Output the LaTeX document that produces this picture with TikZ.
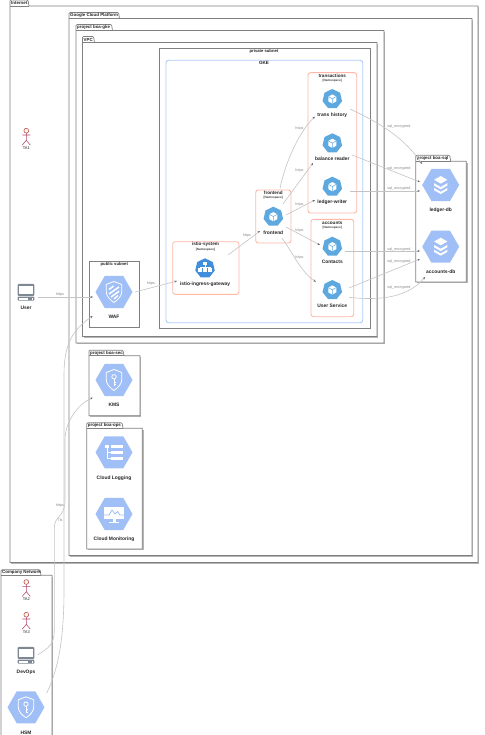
\documentclass[tikz,border=0pt]{standalone}
\usepackage{fontspec}
\setmainfont{Liberation Sans}
\usetikzlibrary{arrows.meta,calc,shapes.geometric}
\definecolor{hexblue}{HTML}{A0BFF6}
\definecolor{podblue}{HTML}{5EA8E0}
\definecolor{istblue}{HTML}{3F8FDD}
\definecolor{nsline}{HTML}{FFB8A8}
\definecolor{gkeline}{HTML}{AFCBFA}
\definecolor{actline}{HTML}{B0466A}
\definecolor{actfill}{HTML}{FEFBC8}
\definecolor{lapgrey}{HTML}{7D8894}
\definecolor{frameline}{HTML}{808080}
\definecolor{frameshadow}{HTML}{B4B4B4}
\definecolor{edgeline}{HTML}{C4C4C4}
\definecolor{edgetext}{HTML}{8A8A8A}
\tikzset{
 hex/.style={shape=regular polygon,regular polygon sides=6,minimum size=37pt,inner sep=0pt,fill=hexblue,draw=none},
 pod/.style={shape=regular polygon,regular polygon sides=7,minimum size=20pt,inner sep=0pt,fill=podblue,draw=none},
 ist/.style={pod,fill=istblue},
 captxt/.style={font=\bfseries\fontsize{4.9}{6}\selectfont,text=black!85,inner sep=0pt},
 tabtxt/.style={font=\bfseries\fontsize{4.4}{5}\selectfont,text=black!85,inner sep=0pt,anchor=west},
 nstitle/.style={font=\bfseries\fontsize{4.6}{5}\selectfont,text=black!85,inner sep=0pt},
 nssub/.style={font=\bfseries\fontsize{3.1}{4}\selectfont,text=black!75,inner sep=0pt},
 acttxt/.style={font=\fontsize{4}{5}\selectfont,text=black!85,inner sep=0pt},
 conn/.style={draw=edgeline,line width=.6pt,-{Stealth[length=2.6pt,width=2pt,color=black!60]}},
 etxt/.style={font=\fontsize{3.7}{4}\selectfont,text=edgetext,inner sep=0pt},
 nsbox/.style={draw=nsline,line width=.9pt,rounded corners=2.5pt,fill=white},
 gkebox/.style={draw=gkeline,line width=.9pt,rounded corners=2.5pt,fill=white},
 plainbox/.style={draw=frameline,line width=.7pt,fill=white},
 wl/.style={draw=white,line width=.8pt,line join=round},
 shieldicon/.pic={
  \draw[wl] (0,-10.5) -- (7.8,-7.5) -- (7.8,-.5) .. controls (7.8,4.5) and (3.5,8) .. (0,10.5) .. controls (-3.5,8) and (-7.8,4.5) .. (-7.8,-.5) -- (-7.8,-7.5) -- cycle;
 },
 wafmark/.pic={
  \draw[white,line width=1.5pt] (-5,-2.5) -- (-.5,-6);
  \draw[white,line width=1.5pt] (-5,2) -- (5,-5);
  \draw[white,line width=1.5pt] (-3,5) -- (5.2,-.8);
  \draw[white,line width=1.5pt] (0,7) -- (4,3.5);
 },
 keymark/.pic={
  \draw[white,line width=.8pt] (0,-3.2) circle (2.2);
  \draw[white,line width=.9pt] (0,-1) -- (0,6) (0,2.5) -- (2,2.5) (0,4.8) -- (2,4.8);
 },
 logmark/.pic={
  \fill[white] (-9,-7.5) rectangle (-5,-4.5);
  \draw[white,line width=.8pt] (-7,-5) -- (-7,6) (-7,.5) -- (-3,.5) (-7,6) -- (-3,6);
  \fill[white] (-3,-7.5) rectangle (9,-4.5);
  \fill[white] (-3,-1) rectangle (9,2);
  \fill[white] (-3,4.5) rectangle (9,7.5);
 },
 monmark/.pic={
  \fill[white] (-10,-7) rectangle (10,5);
  \draw[hexblue,line width=.8pt,line join=round] (-10,1) -- (-5,1) -- (-2,-4) -- (1,0) -- (3.5,-2.5) -- (6,1) -- (10,1);
  \fill[white] (-1.5,5) rectangle (1.5,8);
  \fill[white] (-5,7.5) rectangle (5,8.8);
 },
 dbmark/.pic={
  \fill[white] (0,-9) -- (6.6,-5.2) -- (0,-1.4) -- (-6.6,-5.2) -- cycle;
  \fill[white] (-6.6,-1.8) -- (0,2) -- (6.6,-1.8) -- (6.6,.6) -- (0,4.4) -- (-6.6,.6) -- cycle;
  \fill[white] (-6.6,3) -- (0,6.8) -- (6.6,3) -- (6.6,5.2) -- (0,9) -- (-6.6,5.2) -- cycle;
 },
 cubemark/.pic={
  \fill[white] (0,-4.6) -- (4,-2.4) -- (4,2.4) -- (0,4.6) -- (-4,2.4) -- (-4,-2.4) -- cycle;
  \draw[podblue,line width=.5pt] (-4,-2.4) -- (0,-.2) -- (4,-2.4) (0,-.2) -- (0,4.6);
 },
 netmark/.pic={
  \fill[white] (-2,-6) rectangle (2,-3.4);
  \draw[white,line width=.4pt] (0,-3.4) -- (0,-1.5) (-5,-1.5) -- (5,-1.5) (-5,-1.5) -- (-5,-.8) (5,-1.5) -- (5,-.8);
  \foreach \cx in {-5,0,5}{\fill[white] (\cx-2,-.8) rectangle (\cx+2,1.2);\fill[white] (\cx-2,1.9) rectangle (\cx+2,3.9);}
 },
 laptopmark/.pic={
  \fill[lapgrey,rounded corners=1pt] (-8.4,-8.4) rectangle (8.4,3.6);
  \fill[white] (-6.7,-6.4) rectangle (6.7,1.6);
  \fill[lapgrey,rounded corners=1pt] (-8.4,4.3) rectangle (8.4,8.4);
  \fill[white] (-7.4,5.3) rectangle (1.8,7.4);
  \fill[white] (5.5,5.3) rectangle (7.4,7.4);
 },
 actormark/.pic={
  \draw[actline,line width=.55pt] (0,2.4) -- (0,9.6) (-4,4.3) -- (4,4.3) (-4,14.4) -- (0,9.6) -- (4,14.4);
  \draw[actline,line width=.55pt,fill=actfill] (0,0) circle (2.4);
 },
}
% name, x1, y1, x2, y2, tab right, tab height, text
\newcommand{\pkgframe}[8]{%
 \fill[frameshadow] (#2+1.3,#3+1.3) rectangle (#4+1.3,#5+1.3);
 \draw[plainbox] (#2,#3) -- (#2,#3-#7+1) .. controls (#2,#3-#7) .. (#2+1,#3-#7) -- (#6-2,#3-#7) .. controls (#6-1,#3-#7) .. (#6-.8,#3-#7+1) -- (#6,#3) -- (#4,#3) -- (#4,#5) -- (#2,#5) -- cycle;
 \draw[frameline,line width=.7pt] (#2,#3) -- (#6,#3);
 \node[tabtxt] (#1) at (#2+1,#3-#7/2) {#8};
}
\begin{document}
\begin{tikzpicture}[x=1pt,y=-1pt]
\useasboundingbox (0,0) rectangle (484,735);
\clip (0,0) rectangle (484,735);
\fill[white] (0,0) rectangle (484,735);

\pkgframe{tinternet}{10}{6}{478}{562.5}{29}{6}{Internet}
\pkgframe{tgcp}{69}{18.5}{472}{555.5}{119.5}{6}{Google Cloud Platform}
\pkgframe{tgke}{76}{30.5}{384}{343}{112.5}{6}{project boa-gke}
\pkgframe{tvpc}{82.5}{42.5}{377}{336.5}{94.5}{6}{VPC}

% private subnet
\draw[plainbox] (159,48.3) rectangle (370,328.8);
\node[nstitle,font=\bfseries\fontsize{4.2}{5}\selectfont] (tprivate) at (264,51.3) {private subnet};
\draw[gkebox] (166,60.3) rectangle (362.7,322.7);
\node[nstitle] (tgkein) at (264,63.3) {GKE};

% public subnet
\draw[plainbox] (89,261.7) rectangle (139.7,327.3);
\node[nstitle,font=\bfseries\fontsize{4.2}{5}\selectfont] (tpublic) at (114.3,264.6) {public subnet};

% namespaces
\draw[nsbox] (308,72.7) rectangle (356.7,213);
\node[nstitle] (nstr) at (332.3,76) {transactions};
\node[nssub] (nstrs) at (332.3,80.5) {[Namespace]};
\draw[nsbox] (311,219.3) rectangle (353.7,316.7);
\node[nstitle] (nsac) at (332.3,223) {accounts};
\node[nssub] (nsacs) at (332.3,227.5) {[Namespace]};
\draw[nsbox] (255.7,190) rectangle (291,243);
\node[nstitle] (nsfe) at (273.3,193) {frontend};
\node[nssub] (nsfes) at (273.3,197.5) {[Namespace]};
\draw[nsbox] (172.7,241.7) rectangle (239,294.3);
\node[nstitle] (nsis) at (205.5,244.7) {istio-system};
\node[nssub] (nsiss) at (205.5,249.3) {[Namespace]};

% other projects
\pkgframe{tsec}{89}{355.7}{140}{415.7}{124}{5.5}{project boa-sec}
\pkgframe{tops}{86.7}{428.3}{142.3}{549}{123}{5.5}{project boa-ops}
\pkgframe{tsql}{415.7}{161.3}{466.3}{282}{450.7}{6}{project boa-sql}
\pkgframe{tcomp}{1}{575.3}{52}{745}{41}{5.5}{Company Network}

% GCP icons
\node[hex] (waf) at (114,292) {}; \pic at (waf) {shieldicon}; \pic at (waf) {wafmark};
\node[captxt] (waftxt) at (114,317) {WAF};
\node[hex] (kms) at (114,380) {}; \pic at (kms) {shieldicon}; \pic at (kms) {keymark};
\node[captxt] (kmstxt) at (114,405.3) {KMS};
\node[hex] (clog) at (114,452.3) {}; \pic at (clog) {logmark};
\node[captxt] (clogtxt) at (114,478) {Cloud Logging};
\node[hex] (cmon) at (114,514) {}; \pic at (cmon) {monmark};
\node[captxt] (cmontxt) at (114,539) {Cloud Monitoring};
\node[hex] (ldb) at (440.7,185) {}; \pic at (ldb) {dbmark};
\node[captxt] (ldbtxt) at (440.7,210.7) {ledger-db};
\node[hex] (adb) at (440.7,246.7) {}; \pic at (adb) {dbmark};
\node[captxt] (adbtxt) at (440.7,272) {accounts-db};
\node[hex] (hsm) at (26,707.3) {}; \pic at (hsm) {shieldicon}; \pic at (hsm) {keymark};
\node[captxt] (hsmtxt) at (26,732.7) {HSM};

% pods
\node[pod] (th) at (332.3,99) {}; \pic at (th) {cubemark};
\node[captxt] (thtxt) at (332.3,115.7) {trans history};
\node[pod] (br) at (332.3,143.3) {}; \pic at (br) {cubemark};
\node[captxt] (brtxt) at (332.3,159) {balance reader};
\node[pod] (lw) at (332.3,186.7) {}; \pic at (lw) {cubemark};
\node[captxt] (lwtxt) at (332.3,202.7) {ledger-writer};
\node[pod] (fe) at (273.3,216.7) {}; \pic at (fe) {cubemark};
\node[captxt] (fetxt) at (273.3,232.7) {frontend};
\node[pod] (ct) at (332.3,246.7) {}; \pic at (ct) {cubemark};
\node[captxt] (cttxt) at (332.3,262.3) {Contacts};
\node[pod] (us) at (332.3,290) {}; \pic at (us) {cubemark};
\node[captxt] (ustxt) at (332.3,306) {User Service};
\node[ist] (ig) at (205,268.3) {}; \pic at (ig) {netmark};
\node[captxt] (igtxt) at (205,284.3) {istio-ingress-gateway};

% people and machines
\node[inner sep=0pt,minimum size=17pt] (user) at (26,292.3) {}; \pic at (user) {laptopmark};
\node[captxt] (usertxt) at (26,308.3) {User};
\node[inner sep=0pt,minimum size=17pt] (devops) at (26,655.3) {}; \pic at (devops) {laptopmark};
\node[captxt] (devopstxt) at (26,672) {DevOps};
\pic at (26.3,130.7) {actormark};
\node[acttxt] (ta1) at (26.3,148.3) {TA1};
\pic at (26.3,582) {actormark};
\node[acttxt] (ta2) at (26.3,599.3) {TA2};
\pic at (26.3,614.7) {actormark};
\node[acttxt] (ta3) at (26.3,631.7) {TA3};

% connectors
\draw[conn] ($(user)+(12,4.7)$) -- ($(waf)+(-21,5)$);
\node[etxt] (e1) at (60,295) {https};
\draw[conn] ($(waf)+(21,0)$) -- ($(ig)+(-28,12.7)$);
\node[etxt] (e2) at (151,284) {https};
\draw[conn] ($(ig)+(23,-13.3)$) -- ($(fe)+(-13.3,14.3)$);
\node[etxt] (e3) at (247,236) {https};
\draw[conn] ($(fe)+(6.7,-28.4)$) .. controls ($(fe)+(12,-55)$) and ($(th)+(-32,31)$) .. ($(th)+(-17.3,17.7)$);
\node[etxt] (e4) at (299.5,129) {https};
\draw[conn] ($(fe)+(9.7,-12.7)$) -- ($(br)+(-19.3,19.7)$);
\node[etxt] (e5) at (299.5,171) {https};
\draw[conn] ($(fe)+(12.7,-1.7)$) -- ($(lw)+(-17.3,13.3)$);
\node[etxt] (e6) at (299.5,204.5) {https};
\draw[conn] ($(fe)+(12.7,10.3)$) -- ($(ct)+(-12.3,-1.7)$);
\node[etxt] (e7) at (299.5,231) {https};
\draw[conn] ($(fe)+(8.7,21.6)$) .. controls ($(fe)+(18,33)$) and ($(us)+(-32,-18)$) .. ($(us)+(-16.3,-8.3)$);
\node[etxt] (e8) at (299.5,258) {https};

\draw[conn] ($(th)+(17.7,10)$) .. controls ($(th)+(52,26)$) and ($(ldb)+(-35,-45)$) .. ($(ldb)+(-18.7,-21)$);
\node[etxt] (s1) at (399,127) {sql\_encrypted};
\draw[conn] ($(br)+(19.7,11.7)$) -- ($(ldb)+(-20.7,-3)$);
\node[etxt] (s2) at (399,169) {sql\_encrypted};
\draw[conn] ($(lw)+(17.7,4.3)$) -- ($(ldb)+(-20.7,6)$);
\node[etxt] (s3) at (399,189) {sql\_encrypted};
\draw[conn] ($(ct)+(12.7,4.3)$) -- ($(adb)+(-20.7,4.3)$);
\node[etxt] (s4) at (399,250) {sql\_encrypted};
\draw[conn] ($(us)+(16.7,-2)$) -- ($(adb)+(-20.7,12.3)$);
\node[etxt] (s5) at (399,262) {sql\_encrypted};
\draw[conn] ($(us)+(16.7,7.3)$) .. controls ($(us)+(50,11)$) and ($(adb)+(-32,50)$) .. ($(adb)+(-15.7,30.3)$);
\node[etxt] (s6) at (399,288) {sql\_encrypted};

\draw[conn] ($(hsm)+(20.7,-14.3)$) .. controls (58,670) and (64,640) .. (64,590) -- (64,375) .. controls (64,345) and (72,330) .. ($(waf)+(-21.3,24)$);
\node[etxt] (e9) at (60,505.7) {https};
\draw[conn] ($(devops)+(12,-.6)$) .. controls (48,648) and (54.3,645) .. (54.3,630) -- (54.3,528) .. controls (54.3,515) and (65,518) .. (65,500) -- (65,440) .. controls (65,420) and (80,403) .. ($(kms)+(-21.3,17.7)$);
\node[etxt] (e10) at (60,520) {Tls};
\end{tikzpicture}
\end{document}
